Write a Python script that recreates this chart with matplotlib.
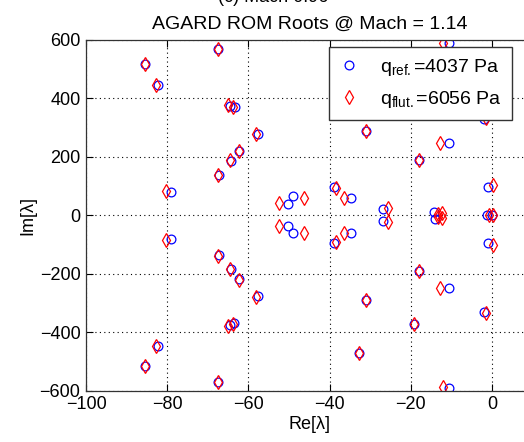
import matplotlib
matplotlib.use('Agg')
import matplotlib.pyplot as plt

plt.rcParams['font.family'] = ['Liberation Sans', 'DejaVu Sans']
plt.rcParams['mathtext.fontset'] = 'custom'
plt.rcParams['mathtext.rm'] = 'Liberation Sans'
plt.rcParams['mathtext.it'] = 'Liberation Sans:italic'

# roots at q_ref (blue circles)
re_ref = [-85.5, -82.2, -79.1, -67.4, -67.2, -64.4, -62.3, -64.6, -63.4, -57.6,
          -50.2, -49.1, -38.9, -34.8, -32.8, -31.0, -26.8, -19.2, -18.1, -14.2,
          -10.5, -10.5, -2.0, -0.9, -1.3,
          -85.5, -82.2, -79.1, -67.4, -67.2, -64.3, -62.3, -64.5, -63.6, -57.6,
          -50.2, -49.1, -38.8, -34.8, -32.8, -31.0, -26.8, -19.2, -18.1, -14.0,
          -10.5, -10.5, -2.0, -0.9, -0.1]
im_ref = [517, 446, 81, 569, 137, 185, 220, 375, 370, 277,
          38, 65, 97, 61, 471, 288, 22, 372, 191, 10,
          248, 591, 328, 97, 0,
          -517, -446, -82, -569, -137, -183, -219, -375, -369, -277,
          -36, -61, -95, -61, -471, -288, -19, -372, -191, -12,
          -248, -592, -329, -95, 0]

# roots at q_flut (red diamonds)
re_flut = [-85.5, -82.7, -80.3, -67.4, -67.6, -64.6, -62.3, -65.1, -63.9, -58.1,
           -52.4, -46.4, -38.4, -36.4, -32.8, -31.0, -25.5, -19.2, -17.9, -13.4,
           -12.4, -12.8, -12.1, -1.5, 0.2, -0.7,
           -85.5, -82.7, -80.3, -67.4, -67.6, -64.5, -62.3, -65.1, -63.9, -58.1,
           -52.4, -46.4, -38.4, -36.4, -32.8, -31.0, -25.5, -19.2, -17.9, -13.4,
           -12.4, -12.8, -12.1, -1.5, 0.2, 0.3]
im_flut = [517, 446, 85, 569, 139, 188, 220, 377, 372, 278,
           41, 61, 92, 61, 471, 288, 25, 372, 191, 5,
           8, 248, 591, 333, 103, 0,
           -517, -446, -85, -569, -139, -185, -220, -377, -372, -278,
           -38, -59, -92, -61, -471, -288, -24, -372, -191, -5,
           -8, -248, -589, -335, -103, 0]

xticks = [-100, -80, -60, -40, -20, 0]
yticks = [-600, -400, -200, 0, 200, 400, 600]

fig = plt.figure(figsize=(5.24, 4.42), dpi=100)
ax = fig.add_axes([86/524, 1-390.7/442, 446.6/524, 350.7/442])

ax.plot(re_ref, im_ref, 'o', ls='none', mfc='none', mec='#0000ff', ms=6.3, mew=0.9,
        label=r'q$_{\rm ref.}$=4037 Pa')
ax.plot(re_flut, im_flut, 'd', ls='none', mfc='none', mec='#ff0000', ms=7, mew=0.9,
        label=r'q$_{\rm flut.}$=6056 Pa')

ax.set_xlim(-100, 10)
ax.set_ylim(-600, 600)
ax.set_xticks(xticks)
ax.set_yticks(yticks)
ax.grid(True, color='black', ls=(0, (1, 3)), lw=0.8)
ax.tick_params(direction='in', top=True, right=True, length=5, labelsize=13, pad=4)
for s in ax.spines.values():
    s.set_color('#333333')
    s.set_linewidth(0.9)

ax.set_xlabel('Re[λ]', fontsize=13, labelpad=2)
ax.set_ylabel('Im[λ]', fontsize=13, labelpad=2)
ax.set_title('AGARD ROM Roots @ Mach = 1.14', fontsize=14, pad=8)
fig.text(273/524, 1-2.5/442, '(c) Mach 0.96', fontsize=13, ha='center', va='baseline')

leg = ax.legend(loc='upper right', bbox_to_anchor=(0.953, 0.979), borderaxespad=0,
                numpoints=1, fontsize=14, fancybox=False, framealpha=1,
                edgecolor='#333333', labelspacing=0.55, handlelength=1.0,
                handletextpad=1.1, borderpad=0.5)
leg.get_frame().set_linewidth(1.0)

fig.savefig('out.png', dpi=100)
